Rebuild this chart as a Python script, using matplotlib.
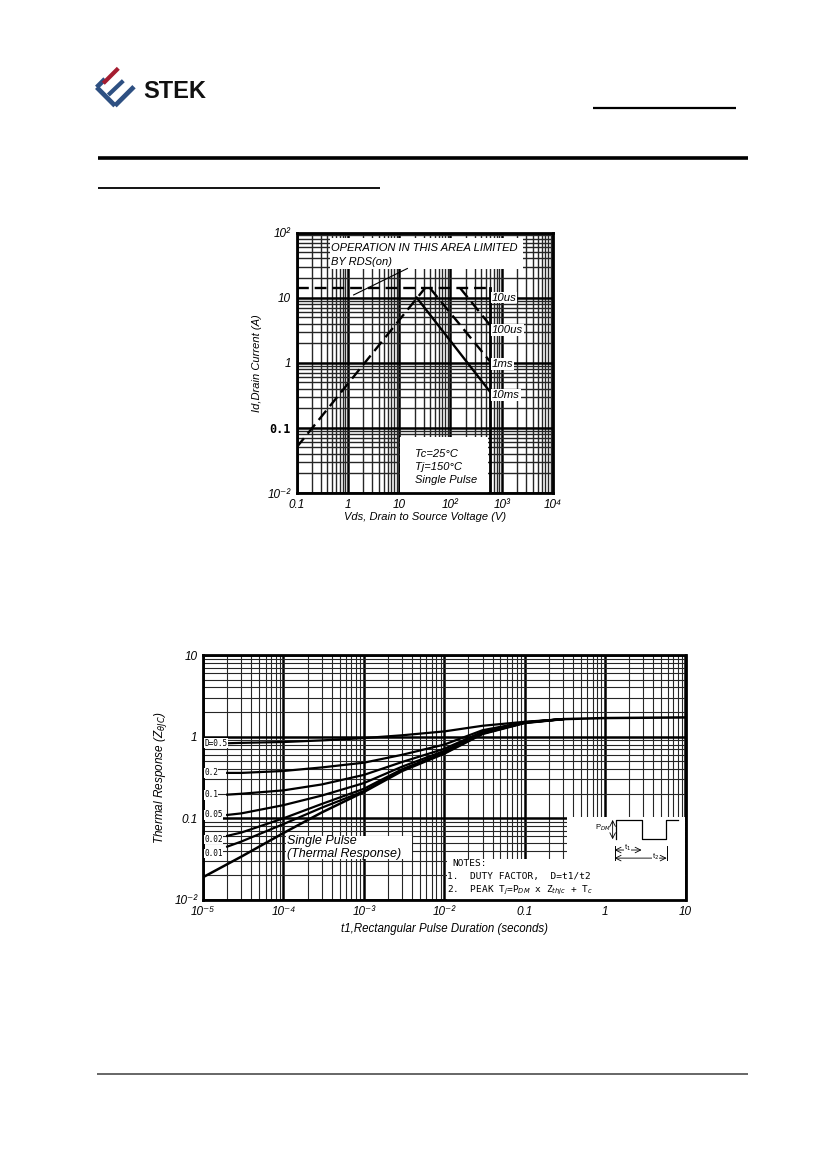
import numpy as np
import matplotlib
matplotlib.use('Agg')
import matplotlib.pyplot as plt
from matplotlib.lines import Line2D
from matplotlib.patches import Rectangle
from matplotlib.ticker import FixedLocator, LogLocator, NullFormatter

plt.rcParams['font.family'] = ['Liberation Sans', 'DejaVu Sans']

W, H = 826, 1169

# --- safe operating area (top chart)
soa_x_ticks = [0.1, 1, 10, 100, 1000, 10000]
soa_x_labels = ['0.1', '1', '10', '10²', '10³', '10⁴']
soa_y_ticks = [0.01, 0.1, 1, 10, 100]
soa_y_labels = ['10⁻²', '0.1', '1', '10', '10²']
rds_v = [0.1, 32]
rds_id = [0.05, 14]
us10_v = [0.1, 590]
us10_id = [14, 14]
bv_v = [590, 590]
bv_id = [14, 0.01]
us100_v = [155, 590]
us100_id = [14, 3.8]
ms1_v = [40, 590]
ms1_id = [14, 1.05]
ms10_v = [22, 590]
ms10_id = [10, 0.36]
pointer_v = [1.3, 14.5]
pointer_id = [11, 28]
soa_curve_names = ['10us', '100us', '1ms', '10ms']
soa_curve_label_id = [10, 3.2, 0.95, 0.32]

# --- transient thermal response (bottom chart)
th_x_ticks = [1e-5, 1e-4, 1e-3, 1e-2, 0.1, 1, 10]
th_x_labels = ['10⁻⁵', '10⁻⁴', '10⁻³', '10⁻²', '0.1', '1', '10']
th_y_ticks = [0.01, 0.1, 1, 10]
th_y_labels = ['10⁻²', '0.1', '1', '10']
t_duty = [2e-5, 3e-5, 1e-4, 3e-4, 1e-3, 3e-3, 1e-2, 3e-2, 0.1, 0.3]
z_d05 = [0.83, 0.84, 0.86, 0.90, 0.96, 1.04, 1.16, 1.36, 1.52, 1.64]
z_d02 = [0.36, 0.36, 0.38, 0.42, 0.48, 0.60, 0.80, 1.20, 1.50, 1.64]
z_d01 = [0.195, 0.20, 0.22, 0.26, 0.34, 0.49, 0.71, 1.15, 1.50, 1.64]
z_d005 = [0.11, 0.115, 0.145, 0.19, 0.27, 0.43, 0.67, 1.12, 1.49, 1.64]
z_d002 = [0.061, 0.067, 0.10, 0.15, 0.23, 0.40, 0.64, 1.10, 1.48, 1.64]
z_d001 = [0.045, 0.052, 0.085, 0.135, 0.215, 0.39, 0.63, 1.09, 1.48, 1.64]
t_single = [1e-5, 3e-5, 1e-4, 3e-4, 1e-3, 3e-3, 1e-2, 3e-2, 0.1, 0.3, 1, 10]
z_single = [0.019, 0.034, 0.066, 0.118, 0.21, 0.38, 0.62, 1.08, 1.47, 1.64, 1.69, 1.72]
duty_names = ['D=0.5', '0.2', '0.1', '0.05', '0.02', '0.01']
duty_label_z = [0.83, 0.36, 0.195, 0.11, 0.055, 0.037]


def fig_line(fig, x0, x1, y0, y1, lw, color='k'):
    fig.add_artist(Line2D([x0 / W, x1 / W], [1 - y0 / H, 1 - y1 / H],
                          transform=fig.transFigure, lw=lw, color=color,
                          solid_capstyle='butt'))


def log_grid(ax, xt, xl, yt, yl, minor_lw=0.8):
    ax.set_xscale('log')
    ax.set_yscale('log')
    ax.set_xlim(xt[0], xt[-1])
    ax.set_ylim(yt[0], yt[-1])
    for axis in (ax.xaxis, ax.yaxis):
        axis.set_minor_locator(LogLocator(subs=np.arange(2, 10), numticks=100))
        axis.set_minor_formatter(NullFormatter())
    ax.xaxis.set_major_locator(FixedLocator(xt))
    ax.yaxis.set_major_locator(FixedLocator(yt))
    ax.set_xticklabels(xl, style='italic', fontsize=8.5)
    ax.set_yticklabels(yl, style='italic', fontsize=8.5)
    ax.grid(True, which='major', color='k', lw=1.8)
    ax.grid(True, which='minor', color='0.15', lw=minor_lw)
    ax.set_axisbelow(True)
    ax.tick_params(which='both', length=0, pad=4)
    for s in ax.spines.values():
        s.set_linewidth(2)


fig = plt.figure(figsize=(W / 100, H / 100), dpi=100)

# page header / footer
fig_line(fig, 593, 736, 108, 108, 1.6)
fig_line(fig, 98, 748, 158, 158, 2.6)
fig_line(fig, 98, 380, 188, 188, 1.3)
fig_line(fig, 97, 748, 1074, 1074, 1.2, '0.3')

# logo
blue, red = '#2E5082', '#A51C30'
fig_line(fig, 105, 96.7, 79, 87.3, 3.4, blue)
fig_line(fig, 96.7, 115, 87.3, 105.7, 3.4, blue)
fig_line(fig, 115, 134, 105.7, 86.7, 3.4, blue)
fig_line(fig, 108.3, 123.3, 95, 80.7, 3.0, blue)
fig_line(fig, 103.3, 118.3, 83.3, 68.3, 3.0, red)
fig.text(143 / W, 1 - 97.5 / H, 'STEK', fontsize=17, fontweight='bold',
         ha='left', va='baseline', color='#111111')

# ---------------- SOA chart
ax1 = fig.add_axes([296.5 / W, 1 - 493 / H, 256.5 / W, 260.5 / H])
log_grid(ax1, soa_x_ticks, soa_x_labels, soa_y_ticks, soa_y_labels, minor_lw=1.0)
lab = ax1.get_yticklabels()[1]
lab.set_family('DejaVu Sans Mono')
lab.set_style('normal')
lab.set_fontweight('bold')

ax1.add_patch(Rectangle((0.46, 28), 2600 - 0.46, 83 - 28, facecolor='white',
                        edgecolor='none', zorder=1))
ax1.text(0.48, 45, 'OPERATION IN THIS AREA LIMITED\nBY RDS(on)', style='italic',
         fontsize=8.0, va='center', ha='left', linespacing=1.45, zorder=3)
ax1.add_patch(Rectangle((10.5, 0.01), 540 - 10.5, 0.072 - 0.01, facecolor='white',
                        edgecolor='none', zorder=1))
ax1.text(20, 0.025, 'Tc=25°C\nTj=150°C\nSingle Pulse', style='italic',
         fontsize=8.0, va='center', ha='left', linespacing=1.35, zorder=3)

ax1.plot(pointer_v, pointer_id, color='k', lw=0.8, zorder=2)
ax1.plot(rds_v, rds_id, color='k', lw=1.7, ls=(0, (5, 2.5)), zorder=2)
ax1.plot(us10_v, us10_id, color='k', lw=1.7, ls=(0, (5, 2.5)), zorder=2)
ax1.plot(bv_v, bv_id, color='k', lw=2.0, zorder=2)
ax1.plot(us100_v, us100_id, color='k', lw=1.7, ls=(0, (5, 2.5)), zorder=2)
ax1.plot(ms1_v, ms1_id, color='k', lw=1.7, ls=(0, (5, 2.5)), zorder=2)
ax1.plot(ms10_v, ms10_id, color='k', lw=1.7, zorder=2)
for name, yv in zip(soa_curve_names, soa_curve_label_id):
    ax1.text(640, yv, name, style='italic', fontsize=8.2, va='center', ha='left',
             zorder=3, bbox=dict(facecolor='white', edgecolor='none', pad=0.6))

ax1.set_xlabel('Vds, Drain to Source Voltage (V)', style='italic', fontsize=8, labelpad=1)
ax1.set_ylabel('Id,Drain Current (A)', style='italic', fontsize=8, labelpad=4)

# ---------------- thermal response chart
ax2 = fig.add_axes([203 / W, 1 - 900 / H, 482.5 / W, 245 / H])
log_grid(ax2, th_x_ticks, th_x_labels, th_y_ticks, th_y_labels)

ax2.add_patch(Rectangle((1.07e-4, 0.032), 4e-3 - 1.07e-4, 0.06 - 0.032,
                        facecolor='white', edgecolor='none', zorder=1))
ax2.text(1.12e-4, 0.044, 'Single Pulse\n(Thermal Response)', style='italic',
         fontsize=9.0, va='center', ha='left', linespacing=1.15, zorder=3)
ax2.add_patch(Rectangle((1.07e-2, 0.01), 10 - 1.07e-2, 0.032 - 0.01,
                        facecolor='white', edgecolor='none', zorder=1))
ax2.add_patch(Rectangle((0.334, 0.032), 10 - 0.334, 0.105 - 0.032,
                        facecolor='white', edgecolor='none', zorder=1))

duty_curves = [z_d05, z_d02, z_d01, z_d005, z_d002, z_d001]
for zc in duty_curves:
    ax2.plot(t_duty, zc, color='k', lw=1.6, zorder=2)
ax2.plot(t_single, z_single, color='k', lw=1.8, zorder=2)
for name, yv in zip(duty_names, duty_label_z):
    ax2.text(1.03e-5, yv, name, family='DejaVu Sans Mono', fontsize=5.6,
             va='center', ha='left', zorder=3,
             bbox=dict(facecolor='white', edgecolor='none', pad=0.3))

notes = ['NOTES:', '1.  DUTY FACTOR,  D=t1/t2',
         '2.  PEAK T$_j$=P$_{DM}$ x Z$_{thjc}$ + T$_c$']
notes_y = [0.151, 0.094, 0.037]
notes_x = [0.516, 0.506, 0.506]
for s, xv, yv in zip(notes, notes_x, notes_y):
    ax2.text(xv, yv, s, transform=ax2.transAxes, family='DejaVu Sans Mono',
             fontsize=6.8, va='center', ha='left', zorder=3)

# pulse sketch in the inset
tr = ax2.transAxes
ax2.plot([0.856, 0.856, 0.909, 0.909, 0.96, 0.96, 0.985],
         [0.248, 0.327, 0.327, 0.248, 0.248, 0.327, 0.327],
         transform=tr, color='k', lw=0.9, zorder=3)
ax2.annotate('', xy=(0.849, 0.327), xytext=(0.849, 0.248), xycoords=tr,
             arrowprops=dict(arrowstyle='<->', lw=0.6, shrinkA=0, shrinkB=0), zorder=3)
ax2.text(0.845, 0.295, 'P$_{DM}$', transform=tr, fontsize=5.5, ha='right', va='center')
ax2.plot([0.853, 0.853], [0.163, 0.22], transform=tr, color='k', lw=0.7)
ax2.plot([0.961, 0.961], [0.163, 0.22], transform=tr, color='k', lw=0.7)
ax2.annotate('', xy=(0.853, 0.204), xytext=(0.909, 0.204), xycoords=tr,
             arrowprops=dict(arrowstyle='<->', lw=0.6, shrinkA=0, shrinkB=0))
ax2.text(0.88, 0.214, 't$_1$', transform=tr, fontsize=5.5, ha='center', va='center',
         bbox=dict(facecolor='white', edgecolor='none', pad=0.2))
ax2.annotate('', xy=(0.853, 0.171), xytext=(0.961, 0.171), xycoords=tr,
             arrowprops=dict(arrowstyle='<->', lw=0.6, shrinkA=0, shrinkB=0))
ax2.text(0.938, 0.176, 't$_2$', transform=tr, fontsize=5.5, ha='center', va='center',
         bbox=dict(facecolor='white', edgecolor='none', pad=0.2))

ax2.set_xlabel('t1,Rectangular Pulse Duration (seconds)', style='italic',
               fontsize=8.3, labelpad=4)
ax2.set_ylabel(r'Thermal Response (Z$_{\theta JC}$)', style='italic',
               fontsize=8.5, labelpad=4)

fig.savefig('out.png', dpi=100)
